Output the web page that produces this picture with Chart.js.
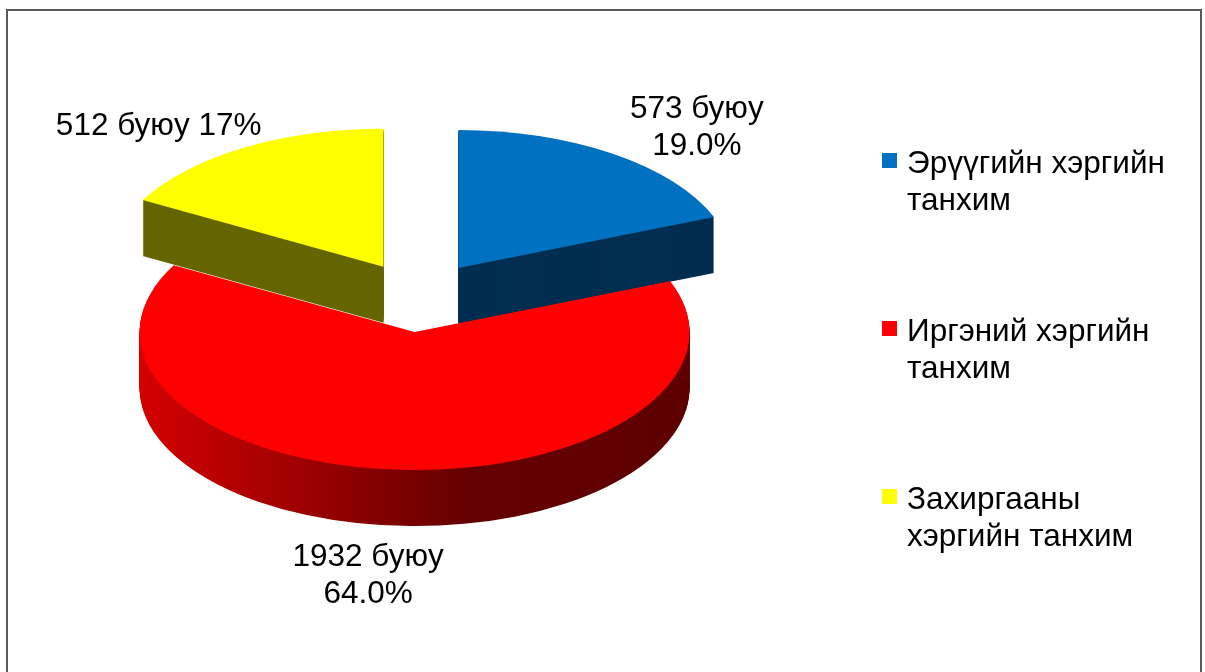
<!DOCTYPE html>
<html>
<head>
<meta charset="utf-8">
<script src="https://cdn.jsdelivr.net/npm/chart.js@4.4.0/dist/chart.umd.min.js"></script>
<style>
  html, body { margin: 0; padding: 0; background: #fff; overflow: hidden; }
  body { width: 1205px; height: 672px; position: relative; font-family: "Liberation Sans", Arial, sans-serif; }
  #frame { position: absolute; left: 6px; top: 9px; width: 1192px; height: 700px; border: 2px solid #595959; }
  #pie { position: absolute; left: 0; top: 0; }
  #legend { position: absolute; left: 882px; top: 144px; display: flex; flex-direction: column; gap: 94px; }
  .item { position: relative; padding-left: 25px; width: 272px; font-size: 31.5px; line-height: 37px; color: #000; }
  .item i { position: absolute; left: 0; top: 9px; width: 15px; height: 15px; }
</style>
</head>
<body>
<div id="frame"></div>
<canvas id="pie" width="1205" height="672"></canvas>
<div id="legend"></div>
<script>
// data
var categories = ['Эрүүгийн хэргийн танхим', 'Иргэний хэргийн танхим', 'Захиргааны хэргийн танхим'];
var cases = [573, 1932, 512];
var shares = ['19.0%', '64.0%', '17%'];

// look
var topColors = ['#0070c0', '#ff0000', '#ffff00'];
var sideColors = ['#002e50', null, '#666600']; // null -> red gradient side
var labelBreak = [true, true, false];
var labelShift = [[84, -36], [-29, 96], [-85, -13]];
var FONT = '31.5px "Liberation Sans", Arial, sans-serif';

function slicePath(ctx, s, tilt, shift) {
    var r = s.r;
    ctx.beginPath();
    ctx.moveTo(s.ax, s.ay + shift);
    ctx.ellipse(s.ax, s.ay + shift, r, r * tilt, 0, s.start, s.end);
    ctx.closePath();
}

function getSlices(chart, tilt) {
    var arcs = chart.getDatasetMeta(0).data;
    return arcs.map(function (a, i) {
        var p = a.getProps(['x', 'y', 'startAngle', 'endAngle', 'outerRadius']);
        var mid = (p.startAngle + p.endAngle) / 2;
        var off = a.options.offset || 0;
        return {
            i: i, r: p.outerRadius, start: p.startAngle, end: p.endAngle, mid: mid,
            color: a.options.backgroundColor,
            ax: p.x + Math.cos(mid) * off,
            ay: p.y + Math.sin(mid) * off * tilt
        };
    });
}

// flattens the pie and extrudes it to look like the 3D Excel pie
var pie3d = {
    id: 'pie3d',
    beforeDatasetsDraw: function (chart, args, opts) {
        var ctx = chart.ctx;
        var slices = getSlices(chart, opts.tilt);
        slices.sort(function (a, b) { return a.ay - b.ay; });
        ctx.save();
        slices.forEach(function (s) {
            var side = sideColors[s.i];
            if (!side) {
                side = ctx.createLinearGradient(s.ax - s.r, 0, s.ax + s.r, 0);
                side.addColorStop(0, '#d40000');
                side.addColorStop(0.6, '#640000');
                side.addColorStop(1, '#5e0000');
            }
            ctx.fillStyle = side;
            for (var k = opts.depth; k > 0; k--) {
                slicePath(ctx, s, opts.tilt, k);
                ctx.fill();
            }
            ctx.fillStyle = s.color;
            slicePath(ctx, s, opts.tilt, 0);
            ctx.fill();
        });
        ctx.restore();
        return false;
    },
    afterDraw: function (chart, args, opts) {
        var ctx = chart.ctx;
        var slices = getSlices(chart, opts.tilt);
        ctx.save();
        ctx.font = FONT;
        ctx.fillStyle = '#000';
        ctx.textAlign = 'center';
        ctx.textBaseline = 'alphabetic';
        slices.forEach(function (s) {
            var x = s.ax + Math.cos(s.mid) * s.r + labelShift[s.i][0];
            var y = s.ay + Math.sin(s.mid) * s.r * opts.tilt + labelShift[s.i][1];
            var first = cases[s.i] + ' буюу';
            if (labelBreak[s.i]) {
                ctx.fillText(first, x, y);
                ctx.fillText(shares[s.i], x, y + 37);
            } else {
                ctx.fillText(first + ' ' + shares[s.i], x, y);
            }
        });
        ctx.restore();
    }
};

new Chart(document.getElementById('pie').getContext('2d'), {
    type: 'pie',
    data: {
        labels: categories,
        datasets: [{
            data: cases,
            backgroundColor: topColors,
            borderWidth: 0,
            offset: 70,
            clip: false
        }]
    },
    options: {
        responsive: false,
        animation: false,
        events: [],
        radius: 275,
        layout: { padding: { left: 20, right: 387, top: 20, bottom: 98 } },
        plugins: {
            legend: { display: false },
            tooltip: { enabled: false },
            pie3d: { tilt: 0.502, depth: 56 }
        }
    },
    plugins: [pie3d]
});

// legend
var legend = document.getElementById('legend');
categories.forEach(function (name, i) {
    var item = document.createElement('div');
    item.className = 'item';
    var box = document.createElement('i');
    box.style.background = topColors[i];
    item.appendChild(box);
    item.appendChild(document.createTextNode(name));
    legend.appendChild(item);
});
</script>
</body>
</html>
